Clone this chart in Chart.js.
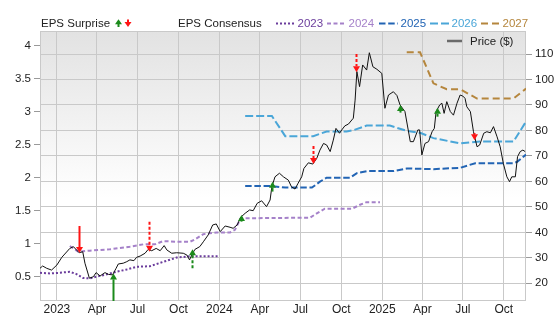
<!DOCTYPE html>
<html>
<head>
<meta charset="utf-8">
<title>EPS Surprise / Consensus vs Price</title>
<script src="https://cdn.jsdelivr.net/npm/chart.js@4.4.1/dist/chart.umd.min.js"></script>
<style>
  html, body { margin: 0; padding: 0; background: #fff; }
</style>
</head>
<body>
<canvas id="chartEps" width="556" height="315"></canvas>
<script>
// ---- values ----
const priceDates = [
  '2022-11-24', '2022-11-30', '2022-12-09', '2022-12-20', '2023-01-01', '2023-01-12', '2023-01-30', '2023-02-07',
  '2023-02-20', '2023-02-28', '2023-03-05', '2023-03-15', '2023-03-24', '2023-03-30', '2023-04-08', '2023-04-19',
  '2023-04-27', '2023-05-06', '2023-05-14', '2023-05-19', '2023-05-30', '2023-06-07', '2023-06-14', '2023-06-23',
  '2023-06-29', '2023-07-07', '2023-07-18', '2023-07-25', '2023-08-02', '2023-08-12', '2023-08-21', '2023-08-30',
  '2023-09-05', '2023-09-16', '2023-09-27', '2023-10-12', '2023-10-20', '2023-10-26', '2023-10-31', '2023-11-07',
  '2023-11-18', '2023-11-26', '2023-12-07', '2023-12-17', '2023-12-25', '2024-01-03', '2024-01-14', '2024-01-25',
  '2024-02-01', '2024-02-10', '2024-02-18', '2024-02-28', '2024-03-09', '2024-03-17', '2024-03-26', '2024-04-05',
  '2024-04-16', '2024-04-24', '2024-04-28', '2024-05-05', '2024-05-15', '2024-05-24', '2024-06-04', '2024-06-11',
  '2024-06-19', '2024-06-26', '2024-07-04', '2024-07-09', '2024-07-19', '2024-07-29', '2024-08-07', '2024-08-14',
  '2024-08-22', '2024-08-29', '2024-09-06', '2024-09-13', '2024-09-19', '2024-09-27', '2024-10-02', '2024-10-09',
  '2024-10-17', '2024-10-28', '2024-11-01', '2024-11-05', '2024-11-11', '2024-11-18', '2024-11-27', '2024-12-03',
  '2024-12-11', '2024-12-20', '2024-12-31', '2025-01-07', '2025-01-15', '2025-01-26', '2025-02-03', '2025-02-10',
  '2025-02-21', '2025-03-05', '2025-03-12', '2025-03-22', '2025-03-26', '2025-03-31', '2025-04-07', '2025-04-15',
  '2025-04-23', '2025-04-28', '2025-05-02', '2025-05-10', '2025-05-15', '2025-05-20', '2025-05-26', '2025-06-03',
  '2025-06-10', '2025-06-18', '2025-06-25', '2025-07-01', '2025-07-06', '2025-07-10', '2025-07-18', '2025-07-25',
  '2025-08-02', '2025-08-08', '2025-08-17', '2025-08-24', '2025-09-01', '2025-09-08', '2025-09-16', '2025-09-23',
  '2025-09-30', '2025-10-08', '2025-10-14', '2025-10-19', '2025-10-27', '2025-11-01', '2025-11-07', '2025-11-13',
  '2025-11-18',
];
const priceValues = [
  25.9, 26.8, 25.9, 25.2, 27.2, 30.2, 33.7, 34.4,
  32.0, 32.4, 27.9, 22.0, 22.6, 24.2, 22.9, 24.2,
  23.5, 23.3, 25.9, 27.6, 27.9, 28.5, 29.2, 28.9,
  30.2, 30.7, 31.8, 33.3, 32.8, 33.7, 32.8, 34.8,
  33.1, 31.8, 32.0, 31.8, 31.1, 29.2, 31.1, 33.3,
  34.4, 36.3, 39.0, 42.9, 43.3, 40.3, 42.5, 42.0,
  41.6, 42.9, 45.9, 47.5, 48.8, 48.5, 51.4, 52.4,
  50.1, 52.7, 57.9, 61.8, 63.2, 61.8, 60.5, 57.9,
  57.0, 59.3, 61.8, 65.1, 67.3, 66.8, 69.1, 72.3,
  74.9, 74.3, 71.7, 76.2, 80.8, 78.9, 80.2, 81.8,
  82.5, 84.8, 91.9, 103.1, 97.2, 105.7, 103.7, 110.5,
  105.0, 104.0, 102.4, 88.7, 93.9, 95.2, 93.7, 90.0,
  87.4, 75.6, 75.6, 80.2, 80.2, 70.4, 74.9, 75.6,
  79.5, 80.8, 87.4, 90.0, 90.7, 86.7, 91.3, 87.4,
  86.0, 90.7, 93.9, 93.5, 92.6, 89.3, 87.4, 79.5,
  73.6, 74.3, 78.9, 79.5, 79.1, 81.5, 77.5, 73.6,
  67.1, 61.8, 59.9, 61.8, 61.8, 69.7, 71.7, 72.3,
  71.7,
];

const eps2023Dates = ['2022-11-24', '2022-12-17', '2023-01-08', '2023-01-30', '2023-02-14', '2023-03-01', '2023-03-16',
  '2023-03-31', '2023-04-23', '2023-05-15', '2023-06-07', '2023-06-29', '2023-07-29', '2023-08-28', '2023-09-27',
  '2023-10-27', '2023-12-30'];
const eps2023Values = [0.56, 0.55, 0.56, 0.575, 0.54, 0.48, 0.475, 0.50, 0.535, 0.575, 0.61, 0.65, 0.66, 0.725, 0.79,
  0.81, 0.81];

const eps2024Dates = ['2023-01-30', '2023-02-18', '2023-03-16', '2023-04-30', '2023-06-14', '2023-07-14', '2023-08-09',
  '2023-08-28', '2023-09-27', '2023-10-27', '2023-11-07', '2023-11-26', '2023-12-26', '2024-01-25', '2024-02-05',
  '2024-02-18', '2024-07-23', '2024-08-07', '2024-08-25', '2024-10-25', '2024-11-12', '2024-11-27', '2024-12-27'];
const eps2024Values = [0.965, 0.88, 0.895, 0.915, 0.955, 0.99, 0.99, 1.04, 1.03, 1.03, 1.065, 1.145, 1.17, 1.17, 1.21,
  1.385, 1.395, 1.46, 1.53, 1.53, 1.59, 1.63, 1.63];

const eps2025Dates = ['2024-02-28', '2024-04-24', '2024-05-28', '2024-07-27', '2024-08-14', '2024-08-29', '2024-10-21',
  '2024-11-05', '2024-11-27', '2025-01-26', '2025-02-25', '2025-04-26', '2025-06-25', '2025-07-29', '2025-10-23',
  '2025-10-31', '2025-11-20'];
const eps2025Values = [1.875, 1.875, 1.85, 1.85, 1.94, 2.0, 2.0, 2.07, 2.10, 2.10, 2.14, 2.13, 2.15, 2.22, 2.22, 2.24, 2.35];

const eps2026Dates = ['2024-02-28', '2024-04-28', '2024-05-28', '2024-07-30', '2024-08-29', '2024-10-13', '2024-10-28',
  '2024-11-27', '2025-01-18', '2025-02-25', '2025-03-27', '2025-04-26', '2025-06-25', '2025-08-09', '2025-10-23',
  '2025-11-20'];
const eps2026Values = [2.935, 2.935, 2.63, 2.63, 2.70, 2.70, 2.72, 2.79, 2.79, 2.71, 2.68, 2.60, 2.52, 2.55, 2.55, 2.85];

const eps2027Dates = ['2025-02-25', '2025-03-27', '2025-04-26', '2025-05-26', '2025-06-25', '2025-08-02', '2025-10-23',
  '2025-11-20'];
const eps2027Values = [3.90, 3.90, 3.43, 3.34, 3.34, 3.20, 3.20, 3.35];

// earnings surprise arrows, in price units: head tip and tail
const surpriseDates = ['2023-02-20', '2023-05-07', '2023-07-26', '2023-10-31', '2024-02-18', '2024-04-28',
  '2024-07-29', '2024-11-03', '2025-02-09', '2025-05-04', '2025-07-27'];
const surpriseTips = [31.9, 23.9, 32.4, 33.4, 46.8, 59.9, 66.8, 102.8, 90.0, 88.9, 76.2];
const surpriseTails = [42.5, 12.7, 44.2, 25.9, 44.2, 56.0, 73.9, 110.0, 87.0, 85.4, 79.0];
const surpriseDashed = [false, false, true, true, false, false, true, true, false, false, false];

const xTickDates = ['2023-01-01', '2023-04-01', '2023-07-01', '2023-10-01', '2024-01-01', '2024-04-01',
  '2024-07-01', '2024-10-01', '2025-01-01', '2025-04-01', '2025-07-01', '2025-10-01'];
const xTickLabels = ['2023', 'Apr', 'Jul', 'Oct', '2024', 'Apr', 'Jul', 'Oct', '2025', 'Apr', 'Jul', 'Oct'];
const epsTicks = [0.5, 1, 1.5, 2, 2.5, 3, 3.5, 4];
const priceTicks = [20, 30, 40, 50, 60, 70, 80, 90, 100, 110];

const xStart = '2022-11-24';
const xEnd = '2025-11-20';
const epsRange = [0.132, 4.223];
const priceRange = [13.06, 119.03];

// ---- styling ----
const FONT = '"Liberation Sans", Arial, Helvetica, sans-serif';
const gridColor = '#c9c9c9';
const textColor = '#222';
const UP = '#1b8a1b';
const DOWN = '#ff1414';

const DAY0 = Date.UTC(2023, 0, 1);
function toDay(s) {
  const [y, m, d] = s.split('-').map(Number);
  return (Date.UTC(y, m - 1, d) - DAY0) / 864e5;
}
const pts = (dates, vals) => dates.map((d, i) => ({ x: toDay(d), y: vals[i] }));

function epsDataset(label, dates, vals, color, dash) {
  return {
    label,
    data: pts(dates, vals),
    yAxisID: 'y',
    borderColor: color,
    borderWidth: 2,
    borderDash: dash,
    pointRadius: 0,
    tension: 0,
    fill: false,
  };
}

function drawArrowHead(ctx, x, tipY, up, w, h) {
  const d = up ? 1 : -1;
  ctx.beginPath();
  ctx.moveTo(x, tipY);
  ctx.lineTo(x - w / 2, tipY + d * h);
  ctx.lineTo(x + w / 2, tipY + d * h);
  ctx.closePath();
  ctx.fill();
}

const plotBackground = {
  id: 'plotBackground',
  beforeDraw(chart) {
    const { ctx, chartArea: a } = chart;
    const g = ctx.createLinearGradient(0, a.top, 0, a.bottom);
    g.addColorStop(0, '#e2e2e2');
    g.addColorStop(0.62, '#ffffff');
    g.addColorStop(1, '#ffffff');
    ctx.save();
    ctx.fillStyle = g;
    ctx.fillRect(a.left, a.top, a.width, a.height);
    ctx.restore();
  },
  beforeDatasetsDraw(chart) {
    const { ctx, chartArea: a } = chart;
    ctx.save();
    ctx.strokeStyle = gridColor;
    ctx.lineWidth = 1;
    ctx.strokeRect(a.left + 0.5, a.top + 0.5, a.width - 1, a.height - 1);
    ctx.restore();
  },
};

const surpriseArrows = {
  id: 'surpriseArrows',
  afterDatasetsDraw(chart) {
    const { ctx, chartArea: a } = chart;
    const xs = chart.scales.x, ys = chart.scales.y1;
    ctx.save();
    ctx.beginPath();
    ctx.rect(a.left, a.top, a.width, a.height);
    ctx.clip();
    surpriseDates.forEach((d, i) => {
      const x = Math.round(xs.getPixelForValue(toDay(d))) + 0.5;
      const tip = ys.getPixelForValue(surpriseTips[i]);
      const tail = ys.getPixelForValue(surpriseTails[i]);
      const up = tip < tail;
      const color = up ? UP : DOWN;
      const headH = 6;
      ctx.strokeStyle = color;
      ctx.fillStyle = color;
      ctx.lineWidth = 2;
      ctx.setLineDash(surpriseDashed[i] ? [3, 2] : []);
      const base = up ? tip + headH : tip - headH;
      if (Math.abs(tail - tip) > headH) {
        ctx.beginPath();
        ctx.moveTo(x, tail);
        ctx.lineTo(x, base);
        ctx.stroke();
      }
      ctx.setLineDash([]);
      drawArrowHead(ctx, x, tip, up, 7, headH);
    });
    ctx.restore();
  },
};

const topLegend = {
  id: 'topLegend',
  afterDraw(chart) {
    const { ctx } = chart;
    const y = 23.5;
    ctx.save();
    ctx.font = '11.5px ' + FONT;
    ctx.textBaseline = 'middle';
    ctx.fillStyle = textColor;
    ctx.fillText('EPS Surprise', 41, y);
    // legend glyphs for beat / miss
    ctx.fillStyle = UP; ctx.strokeStyle = UP; ctx.lineWidth = 2;
    ctx.beginPath(); ctx.moveTo(118.5, 27); ctx.lineTo(118.5, 23); ctx.stroke();
    drawArrowHead(ctx, 118.5, 19.3, true, 7, 5);
    ctx.fillStyle = DOWN; ctx.strokeStyle = DOWN;
    ctx.beginPath(); ctx.moveTo(128, 19.5); ctx.lineTo(128, 23); ctx.stroke();
    drawArrowHead(ctx, 128, 27, false, 7, 5);

    ctx.fillStyle = textColor;
    ctx.fillText('EPS Consensus', 178, y);
    const starts = [276, 327, 379, 430, 481];
    const eps = chart.data.datasets.filter((ds) => ds.yAxisID === 'y');
    eps.forEach((ds, i) => {
      const x0 = starts[i];
      ctx.strokeStyle = ds.borderColor;
      ctx.lineWidth = 2;
      ctx.setLineDash(ds.borderDash);
      ctx.beginPath(); ctx.moveTo(x0, y); ctx.lineTo(x0 + 19, y); ctx.stroke();
      ctx.setLineDash([]);
      ctx.fillStyle = ds.borderColor;
      ctx.fillText(ds.label, x0 + 21.5, y);
    });

    // price key inside the plot
    ctx.strokeStyle = '#6a6a6a';
    ctx.lineWidth = 2.5;
    ctx.beginPath(); ctx.moveTo(447, 41); ctx.lineTo(462, 41); ctx.stroke();
    ctx.fillStyle = textColor;
    ctx.fillText('Price ($)', 470, 42);
    ctx.restore();
  },
};

const tickFont = { family: FONT, size: 11.5 };

new Chart(document.getElementById('chartEps').getContext('2d'), {
  type: 'line',
  data: {
    datasets: [
      {
        label: 'Price ($)',
        data: pts(priceDates, priceValues),
        yAxisID: 'y1',
        borderColor: '#111',
        borderWidth: 1,
        pointRadius: 0,
        tension: 0,
        fill: false,
      },
      epsDataset('2023', eps2023Dates, eps2023Values, '#6b3d9c', [2, 2]),
      epsDataset('2024', eps2024Dates, eps2024Values, '#a581c9', [4, 2.5]),
      epsDataset('2025', eps2025Dates, eps2025Values, '#2264b4', [6.5, 2.7]),
      epsDataset('2026', eps2026Dates, eps2026Values, '#4aa6d8', [8, 3]),
      epsDataset('2027', eps2027Dates, eps2027Values, '#b5863d', [7, 4]),
    ],
  },
  options: {
    responsive: false,
    devicePixelRatio: 1,
    animation: false,
    layout: { padding: { top: 31, left: 0, right: 0, bottom: 0 } },
    plugins: { legend: { display: false }, tooltip: { enabled: false } },
    scales: {
      x: {
        type: 'linear',
        min: toDay(xStart),
        max: toDay(xEnd),
        afterBuildTicks: (s) => { s.ticks = xTickDates.map((d) => ({ value: toDay(d) })); },
        afterFit: (s) => { s.height = 14; },
        ticks: {
          callback: (v, i) => xTickLabels[i],
          autoSkip: false,
          maxRotation: 0,
          padding: 1,
          color: textColor,
          font: { family: FONT, size: 12 },
        },
        grid: { color: gridColor, drawTicks: false },
        border: { display: false },
      },
      y: {
        position: 'left',
        min: epsRange[0],
        max: epsRange[1],
        afterBuildTicks: (s) => { s.ticks = epsTicks.map((v) => ({ value: v })); },
        afterFit: (s) => { s.width = 40; },
        ticks: { callback: (v) => String(v), padding: 3, color: textColor, font: tickFont },
        grid: { drawOnChartArea: false, tickLength: 6, tickColor: '#9a9a9a' },
        border: { display: false },
      },
      y1: {
        position: 'right',
        min: priceRange[0],
        max: priceRange[1],
        afterBuildTicks: (s) => { s.ticks = priceTicks.map((v) => ({ value: v })); },
        afterFit: (s) => { s.width = 30; },
        ticks: { callback: (v) => String(v), padding: 3, color: textColor, font: tickFont },
        grid: { color: gridColor, tickLength: 6, tickColor: '#9a9a9a' },
        border: { display: false },
      },
    },
  },
  plugins: [plotBackground, surpriseArrows, topLegend],
});
</script>
</body>
</html>
